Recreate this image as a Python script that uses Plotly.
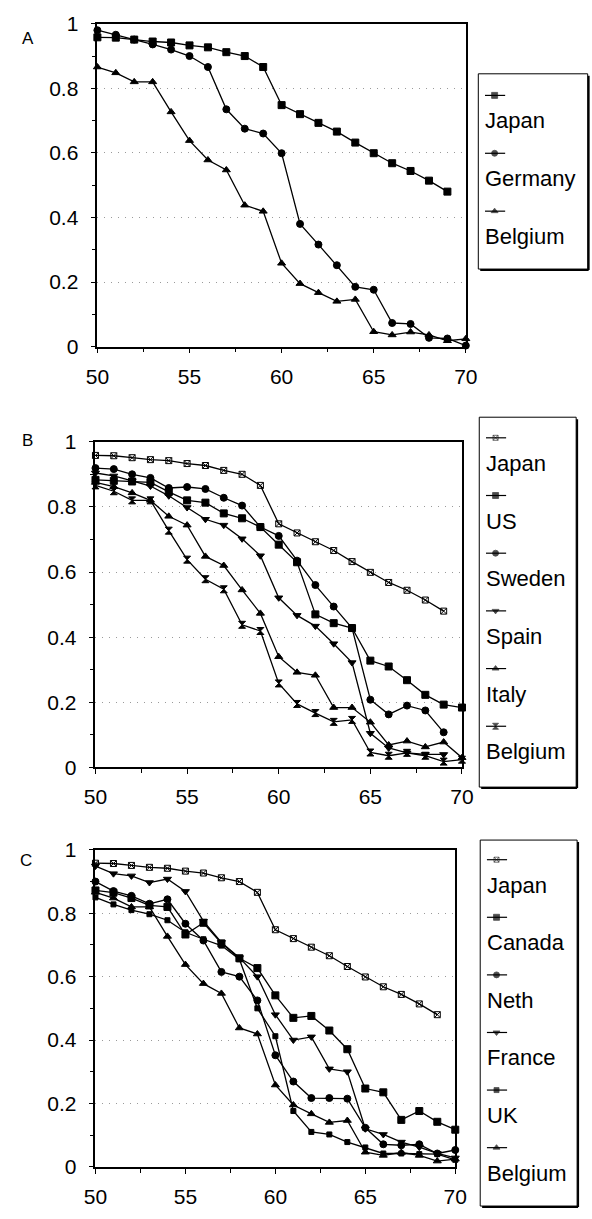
import plotly.graph_objects as go

# ---------------- data ----------------
years = list(range(50, 71))
years_to69 = list(range(50, 70))

japan = [0.958, 0.957, 0.951, 0.945, 0.942, 0.933, 0.927, 0.912, 0.900, 0.866,
         0.748, 0.720, 0.693, 0.666, 0.632, 0.599, 0.568, 0.544, 0.514, 0.480]
germany = [0.980, 0.966, 0.951, 0.936, 0.920, 0.900, 0.866, 0.735, 0.675, 0.660,
           0.599, 0.380, 0.316, 0.252, 0.185, 0.176, 0.073, 0.070, 0.027, 0.025, 0.003]
belgium = [0.866, 0.848, 0.820, 0.820, 0.727, 0.638, 0.578, 0.547, 0.438, 0.419,
           0.258, 0.195, 0.167, 0.140, 0.146, 0.046, 0.036, 0.045, 0.036, 0.018, 0.024]

us = [0.883, 0.880, 0.878, 0.875, 0.846, 0.820, 0.813, 0.780, 0.765, 0.738,
      0.684, 0.630, 0.470, 0.443, 0.428, 0.328, 0.310, 0.268, 0.223, 0.193, 0.184]
sweden = [0.919, 0.916, 0.900, 0.889, 0.858, 0.861, 0.855, 0.828, 0.804, 0.738,
          0.711, 0.635, 0.560, 0.494, 0.428, 0.208, 0.163, 0.190, 0.175, 0.108]
spain = [0.904, 0.895, 0.880, 0.864, 0.834, 0.798, 0.762, 0.744, 0.702, 0.650,
         0.521, 0.467, 0.434, 0.380, 0.322, 0.105, 0.060, 0.045, 0.040, 0.040]
italy = [0.875, 0.862, 0.843, 0.820, 0.771, 0.744, 0.648, 0.620, 0.545, 0.473,
         0.340, 0.292, 0.283, 0.184, 0.184, 0.139, 0.069, 0.081, 0.063, 0.078, 0.030]

canada = [0.872, 0.865, 0.848, 0.825, 0.820, 0.733, 0.770, 0.705, 0.658, 0.627,
          0.541, 0.470, 0.476, 0.430, 0.371, 0.247, 0.235, 0.148, 0.176, 0.142, 0.117]
neth = [0.900, 0.870, 0.855, 0.830, 0.844, 0.767, 0.714, 0.615, 0.600, 0.525,
        0.352, 0.269, 0.217, 0.217, 0.215, 0.123, 0.071, 0.068, 0.071, 0.042, 0.053]
france = [0.949, 0.925, 0.918, 0.897, 0.908, 0.869, 0.775, 0.708, 0.660, 0.600,
          0.480, 0.400, 0.410, 0.309, 0.300, 0.120, 0.102, 0.078, 0.062, 0.042, 0.028]
uk = [0.850, 0.828, 0.810, 0.797, 0.778, 0.740, 0.718, 0.698, 0.655, 0.500,
      0.412, 0.176, 0.110, 0.102, 0.078, 0.061, 0.042, 0.042, 0.040, 0.040, 0.022]

y_ticks = [0, 0.2, 0.4, 0.6, 0.8, 1]
y_ticktext = ["0", "0.2", "0.4", "0.6", "0.8", "1"]
x_ticks = [50, 55, 60, 65, 70]

# panels: (label, series list) ; each series = (name, x, y, symbol, size)
panels = [
    ("A", [("Japan", years_to69, japan, "square", 7),
           ("Germany", years, germany, "circle", 7),
           ("Belgium", years, belgium, "triangle-up", 7)]),
    ("B", [("Japan", years_to69, japan, "square-x-open", 6),
           ("US", years, us, "square", 7),
           ("Sweden", years_to69, sweden, "circle", 7),
           ("Spain", years_to69, spain, "triangle-down", 7),
           ("Italy", years, italy, "triangle-up", 7),
           ("Belgium", years, belgium, "hourglass", 7)]),
    ("C", [("Japan", years_to69, japan, "square-x-open", 6),
           ("Canada", years, canada, "square", 7),
           ("Neth", years, neth, "circle", 7),
           ("France", years, france, "triangle-down", 7),
           ("UK", years, uk, "square", 5),
           ("Belgium", years, belgium, "triangle-up", 7)]),
]

# ---------------- layout geometry (pixels) ----------------
W, H = 592, 1219
FONT = "Liberation Sans, Arial, Helvetica, sans-serif"
# plot boxes: left, right, top, bottom
boxes = [(89, 473, 12, 341), (87, 469, 438, 770), (87, 462, 854, 1177)]
# legend boxes: left, right, top, bottom, first symbol row, row step
legend_boxes = [(486, 600, 63, 262, 85, 59),
                (487, 588, 413, 790, 434, 58.8),
                (488, 589, 844, 1217, 864, 58.7)]
panel_label_pos = [(17, 27), (16, 437), (15, 865)]


def px(x):
    return x / W


def py(y):
    return 1 - y / H


fig = go.Figure()
layout = dict(
    width=W, height=H,
    margin=dict(l=0, r=0, t=0, b=0),
    paper_bgcolor="white",
    plot_bgcolor="rgba(0,0,0,0)",
    showlegend=False,
    font=dict(family=FONT, size=20, color="black"),
)

annotations = []
shapes = []

for i, ((label, series), box) in enumerate(zip(panels, boxes)):
    n = i + 1
    xa = "xaxis" if n == 1 else f"xaxis{n}"
    ya = "yaxis" if n == 1 else f"yaxis{n}"
    xr = "x" if n == 1 else f"x{n}"
    yr = "y" if n == 1 else f"y{n}"
    l, r, t, b = box
    layout[xa] = dict(
        domain=[px(l), px(r)], range=[50, 70], anchor=yr,
        tickvals=x_ticks, ticks="outside", ticklen=5, tickwidth=1.2,
        tickcolor="black", showline=True, linecolor="black", linewidth=1.6,
        mirror=True, showgrid=False, zeroline=False,
        ticklabelstandoff=5,
        tickfont=dict(family=FONT, size=21, color="black"),
        minor=dict(dtick=2.5, tick0=50, ticks="outside", ticklen=4,
                   tickwidth=1, tickcolor="black", showgrid=False),
    )
    layout[ya] = dict(
        domain=[py(b), py(t)], range=[0, 1], anchor=xr,
        tickvals=y_ticks, ticktext=y_ticktext, ticks="outside", ticklen=5,
        tickwidth=1.2, tickcolor="black", showline=True, linecolor="black",
        linewidth=1.6, mirror=True, showgrid=True, gridcolor="#9a9a9a",
        griddash="1px,6px", gridwidth=1, zeroline=False,
        ticklabelstandoff=8,
        tickfont=dict(family=FONT, size=21, color="black"),
        minor=dict(dtick=0.1, tick0=0, ticks="outside", ticklen=4,
                   tickwidth=1, tickcolor="black", showgrid=False),
    )
    for name, xs, ys, sym, size in series:
        fig.add_trace(go.Scatter(
            x=xs, y=ys, mode="lines+markers", name=name,
            xaxis=xr, yaxis=yr, cliponaxis=False,
            line=dict(color="black", width=1.3),
            marker=dict(symbol=sym, size=size, color="black",
                        line=dict(color="black", width=1)),
        ))
    # panel letter
    lx, ly = panel_label_pos[i]
    annotations.append(dict(x=px(lx), y=py(ly), xref="paper", yref="paper",
                            text=label, showarrow=False, xanchor="center",
                            yanchor="middle",
                            font=dict(family=FONT, size=17, color="black")))

    # legend box with a drop-shadow edge
    gl, gr, gt, gb, row0, step = legend_boxes[i]
    shapes.append(dict(type="rect", xref="paper", yref="paper",
                       x0=px(gl), x1=px(gr), y0=py(gb), y1=py(gt),
                       line=dict(color="black", width=1), fillcolor="white",
                       layer="below"))
    shapes.append(dict(type="line", xref="paper", yref="paper",
                       x0=px(gl + 2), x1=px(gr + 1), y0=py(gb + 1), y1=py(gb + 1),
                       line=dict(color="black", width=2)))
    shapes.append(dict(type="line", xref="paper", yref="paper",
                       x0=px(gr + 1), x1=px(gr + 1), y0=py(gt + 2), y1=py(gb + 1),
                       line=dict(color="black", width=2)))
    for k, (name, xs, ys, sym, size) in enumerate(series):
        yc = row0 + k * step
        fig.add_trace(go.Scatter(
            x=[gl + 7, gl + 17, gl + 28], y=[yc, yc, yc],
            mode="lines+markers", xaxis="x4", yaxis="y4",
            line=dict(color="black", width=1.2),
            marker=dict(symbol=sym, size=[0, max(size - 1, 5), 0],
                        color="black", line=dict(color="black", width=0.8)),
            hoverinfo="skip",
        ))
        annotations.append(dict(x=gl + 5, y=yc + 26, xref="x4", yref="y4",
                                text=name, showarrow=False, xanchor="left",
                                yanchor="middle",
                                font=dict(family=FONT, size=22, color="black")))

# full-canvas pixel axes for the legend samples
layout["xaxis4"] = dict(domain=[0, 1], range=[0, W], anchor="y4",
                        visible=False, fixedrange=True)
layout["yaxis4"] = dict(domain=[0, 1], range=[H, 0], anchor="x4",
                        visible=False, fixedrange=True)

layout["annotations"] = annotations
layout["shapes"] = shapes
fig.update_layout(**layout)
fig.write_html("out.html")
